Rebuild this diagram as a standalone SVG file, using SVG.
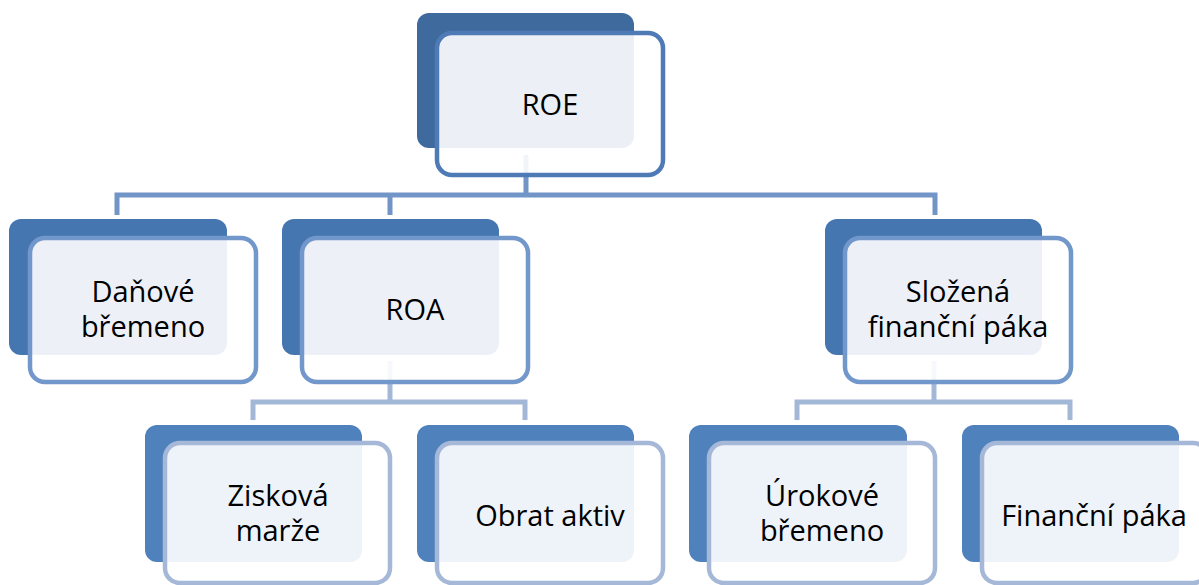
<svg xmlns="http://www.w3.org/2000/svg" width="1199" height="585" viewBox="0 0 1199 585">
<style>
.back{rx:12px;ry:12px}
.front{fill:#ffffff;fill-opacity:0.9;stroke-width:4.5;rx:15px;ry:15px}
.l1 .back{fill:#3e6a9e}.l1 .front{stroke:#4e7ab6}
.l2 .back{fill:#4676b0}.l2 .front{stroke:#7297cb}
.l3 .back{fill:#4f81bd}.l3 .front{stroke:#a5b8d8}
text{font-family:"Open Sans","Liberation Sans",sans-serif;font-size:29px;fill:#000;text-anchor:middle}
.c1{fill:none;stroke:#7295c8;stroke-width:5}
.c2{fill:none;stroke:#a3b7d7;stroke-width:5}
</style>
<rect width="1199" height="585" fill="#ffffff"/>
<g id="connectors">
<path class="c1" d="M526 155V195M117 215V195H935V215M390 195V215"/>
<path class="c2" d="M390 361V402M253 420V402H525V420M934 361V402M797 420V402H1070V420"/>
</g>
<g id="roe" class="l1">
<rect class="back" x="417" y="13" width="217" height="135"/>
<rect class="front" x="437" y="33" width="226" height="142"/>
<text x="550" y="115">ROE</text>
</g>
<g id="danove" class="l2">
<rect class="back" x="9" y="219" width="218" height="136"/>
<rect class="front" x="30" y="238" width="226" height="144"/>
<text x="143" y="302">Daňové</text>
<text x="143" y="337">břemeno</text>
</g>
<g id="roa" class="l2">
<rect class="back" x="282" y="219" width="217" height="136"/>
<rect class="front" x="302" y="238" width="226" height="144"/>
<text x="415" y="320">ROA</text>
</g>
<g id="slozena" class="l2">
<rect class="back" x="825" y="219" width="217" height="136"/>
<rect class="front" x="845" y="238" width="226" height="144"/>
<text x="958" y="302">Složená</text>
<text x="958" y="337">finanční páka</text>
</g>
<g id="ziskova" class="l3">
<rect class="back" x="145" y="425" width="217" height="137"/>
<rect class="front" x="165" y="443" width="225" height="140"/>
<text x="278" y="506">Zisková</text>
<text x="278" y="541">marže</text>
</g>
<g id="obrat" class="l3">
<rect class="back" x="417" y="425" width="217" height="137"/>
<rect class="front" x="437" y="443" width="226" height="140"/>
<text x="550" y="526">Obrat aktiv</text>
</g>
<g id="urokove" class="l3">
<rect class="back" x="689" y="425" width="218" height="137"/>
<rect class="front" x="709" y="443" width="226" height="140"/>
<text x="822" y="506">Úrokové</text>
<text x="822" y="541">břemeno</text>
</g>
<g id="financni" class="l3">
<rect class="back" x="962" y="425" width="217" height="137"/>
<rect class="front" x="982" y="443" width="226" height="140"/>
<text x="1094" y="526">Finanční páka</text>
</g>
</svg>
